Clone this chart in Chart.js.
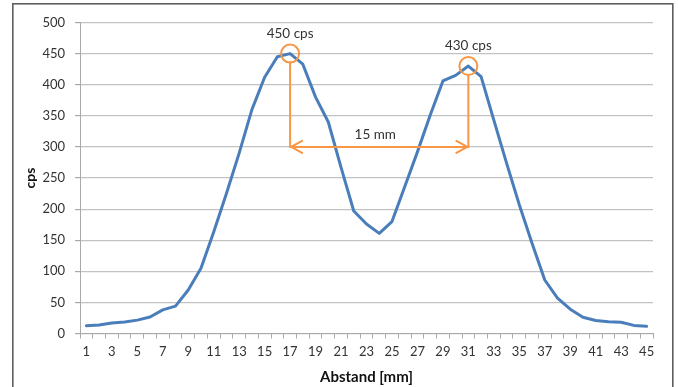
<!DOCTYPE html>
<html>
<head>
<meta charset="utf-8">
<script src="https://cdn.jsdelivr.net/npm/chart.js@4/dist/chart.umd.min.js"></script>
<style>
  html, body { margin: 0; padding: 0; background: #fff; }
  canvas { display: block; }
</style>
</head>
<body>
<canvas id="profile" width="678" height="387"></canvas>
<script>
// Distance along the scan [mm]
const distances = [1, 2, 3, 4, 5, 6, 7, 8, 9, 10, 11, 12, 13, 14, 15, 16, 17, 18, 19, 20,
  21, 22, 23, 24, 25, 26, 27, 28, 29, 30, 31, 32, 33, 34, 35, 36, 37, 38, 39, 40,
  41, 42, 43, 44, 45];

// Count rate per position [cps]
const counts = [12.5, 13.5, 17, 18.5, 21.5, 26.5, 38, 44, 70, 105,
  163, 225, 290, 360, 412, 445, 450, 433, 380, 340,
  267, 197, 176, 161, 180, 236, 292, 351, 406, 415,
  430, 413, 343, 274, 207, 145, 86, 57, 39, 26,
  21, 19, 18, 13, 11.5];

// Marked peaks and the distance between them
const peakDistances = [17, 31];
const peakCounts = [450, 430];
const peakLabels = ['450 cps', '430 cps'];
const spanLevel = 300;
const spanLabel = '15 mm';

const FONT = "Lato, 'Open Sans', sans-serif";
const ORANGE = '#F79646';
const GRID = '#c2c2c2';
const AXIS = '#a9a9a9';
const TEXT = '#333333';

const peakMarks = {
    id: 'peakMarks',
    afterDatasetsDraw(chart) {
        const { ctx, scales: { x, y } } = chart;
        const r = 9;
        const pts = peakDistances.map((d, i) => ({
            x: x.getPixelForValue(distances.indexOf(d)),
            y: y.getPixelForValue(peakCounts[i])
        }));
        const yLine = y.getPixelForValue(spanLevel);

        ctx.save();
        ctx.strokeStyle = ORANGE;
        ctx.lineWidth = 2;
        ctx.lineCap = 'round';
        ctx.lineJoin = 'round';

        pts.forEach(p => {
            ctx.beginPath();
            ctx.arc(p.x, p.y, r, 0, Math.PI * 2);
            ctx.stroke();
            ctx.beginPath();
            ctx.moveTo(p.x, p.y + r);
            ctx.lineTo(p.x, yLine);
            ctx.stroke();
        });

        // double-headed span arrow
        const x0 = pts[0].x, x1 = pts[1].x;
        ctx.beginPath();
        ctx.moveTo(x0, yLine);
        ctx.lineTo(x1, yLine);
        ctx.stroke();
        const ah = 12, aw = 6;
        ctx.beginPath();
        ctx.moveTo(x0 + ah, yLine - aw);
        ctx.lineTo(x0 + 1, yLine);
        ctx.lineTo(x0 + ah, yLine + aw);
        ctx.moveTo(x1 - ah, yLine - aw);
        ctx.lineTo(x1 - 1, yLine);
        ctx.lineTo(x1 - ah, yLine + aw);
        ctx.stroke();

        ctx.fillStyle = TEXT;
        ctx.font = `13.5px ${FONT}`;
        ctx.textAlign = 'center';
        ctx.textBaseline = 'middle';
        pts.forEach((p, i) => ctx.fillText(peakLabels[i], p.x, p.y - 20));
        ctx.fillText(spanLabel, (x0 + x1) / 2 - 4, yLine - 12);
        ctx.restore();
    },
    afterDraw(chart) {
        // outer frame
        const { ctx } = chart;
        ctx.save();
        ctx.strokeStyle = '#5e5e5e';
        ctx.lineWidth = 1.6;
        ctx.strokeRect(12.8, 3.8, 660, 400);
        ctx.restore();
    }
};

new Chart(document.getElementById('profile'), {
    type: 'line',
    data: {
        labels: distances,
        datasets: [{
            data: counts,
            borderColor: '#4A7EBB',
            borderWidth: 3,
            pointRadius: 0,
            tension: 0,
            fill: false,
            borderJoinStyle: 'round',
            borderCapStyle: 'round'
        }]
    },
    options: {
        responsive: false,
        animation: false,
        layout: { padding: { top: 22.5, right: 25, left: 0, bottom: 0 } },
        plugins: {
            legend: { display: false },
            tooltip: { enabled: false }
        },
        scales: {
            x: {
                type: 'category',
                offset: true,
                afterFit: s => { s.height = 53.5; },
                grid: {
                    offset: true,
                    drawOnChartArea: false,
                    drawTicks: true,
                    tickLength: 5,
                    color: AXIS
                },
                border: { color: AXIS, width: 1 },
                ticks: {
                    autoSkip: false,
                    maxRotation: 0,
                    padding: 6,
                    color: TEXT,
                    font: { size: 13, family: FONT },
                    callback: (v, i) => (i % 2 === 0 ? String(distances[i]) : '')
                },
                title: {
                    display: true,
                    text: 'Abstand [mm]',
                    color: '#111',
                    padding: { top: 0, bottom: 1 },
                    font: { size: 15, weight: 'bold', family: FONT }
                }
            },
            y: {
                min: 0,
                max: 500,
                afterFit: s => { s.width = 80; },
                grid: {
                    color: GRID,
                    lineWidth: 1.2,
                    drawTicks: true,
                    tickLength: 5,
                    tickColor: AXIS
                },
                border: { color: AXIS, width: 1 },
                ticks: {
                    stepSize: 50,
                    padding: 10,
                    color: TEXT,
                    font: { size: 13, family: FONT }
                },
                title: {
                    display: true,
                    text: 'cps',
                    color: '#111',
                    padding: { top: 22, bottom: 0 },
                    font: { size: 14, weight: 'bold', family: FONT }
                }
            }
        }
    },
    plugins: [peakMarks]
});
</script>
</body>
</html>
